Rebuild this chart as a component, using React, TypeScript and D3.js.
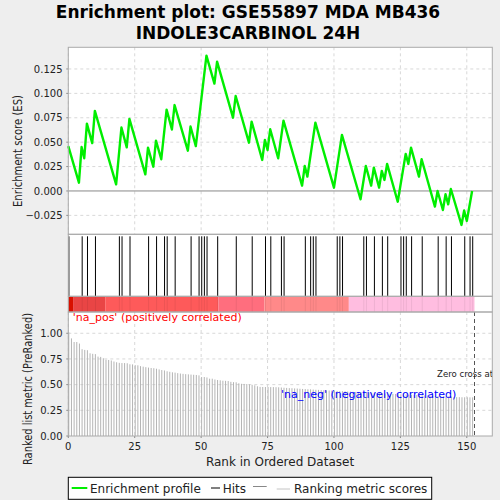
import { useEffect, useRef } from "react";
import * as d3 from "d3";

// hit ranks (gene set members in the ordered list)
const hitRanks = [0, 5, 7, 10, 19, 20, 23, 30, 33, 36, 37, 40, 46, 49, 50, 51, 52, 56, 63, 69, 74, 76, 80, 81,
  89, 91, 92, 93, 101, 102, 103, 111, 112, 115, 118, 120, 125, 126, 127, 129, 133, 139, 142, 144, 149, 151, 152];

// running enrichment score, vertices [rank, ES]
const esRanks = [0, 4, 5, 6, 7, 9, 10, 18, 20, 22, 23, 29, 30, 32, 33, 35, 37, 39, 40, 45, 46, 48, 52, 55, 56,
  62, 63, 68, 69, 73, 74, 75, 76, 79, 81, 88, 89, 90, 93, 100, 103, 110, 112, 114, 115, 117, 118, 119, 120,
  124, 127, 128, 129, 132, 133, 138, 139, 141, 142, 143, 144, 148, 149, 150, 152];
const esValues = [0.046, 0.0085, 0.045, 0.0335, 0.069, 0.049, 0.082, 0.0068, 0.065, 0.0447, 0.0738, 0.017,
  0.0444, 0.0249, 0.0516, 0.0325, 0.0833, 0.063, 0.088, 0.0413, 0.066, 0.046, 0.1387, 0.110, 0.1325,
  0.0751, 0.0973, 0.0495, 0.071, 0.0318, 0.0523, 0.042, 0.0632, 0.0335, 0.072, 0.0055, 0.0256, 0.0147,
  0.070, 0.0034, 0.0574, -0.0085, 0.0256, 0.0055, 0.0239, 0.0034, 0.0205, 0.0113, 0.0277,
  -0.011, 0.038, 0.0277, 0.0444, 0.0147, 0.0325, -0.016, 0.0, -0.0195, -0.0034, -0.0137, 0.002,
  -0.0348, -0.020, -0.0307, 0.0];

// ranked list metric, one per rank 0..152
const metric = [1.01, 0.95, 0.915, 0.915, 0.90, 0.845, 0.838, 0.835, 0.805, 0.80, 0.797, 0.773, 0.77, 0.757,
  0.742, 0.74, 0.735, 0.725, 0.718, 0.712, 0.71, 0.71, 0.708, 0.698, 0.697, 0.69, 0.688, 0.68, 0.675, 0.67,
  0.666, 0.662, 0.66, 0.655, 0.648, 0.642, 0.638, 0.63, 0.625, 0.62, 0.617, 0.612, 0.608, 0.605, 0.602,
  0.60, 0.598, 0.596, 0.594, 0.59, 0.574, 0.574, 0.57, 0.558, 0.558, 0.55, 0.545, 0.542, 0.538, 0.537,
  0.535, 0.527, 0.524, 0.523, 0.513, 0.508, 0.507, 0.506, 0.503, 0.498, 0.493, 0.484, 0.478, 0.477,
  0.477, 0.477, 0.476, 0.476, 0.475, 0.474, 0.472, 0.47, 0.468, 0.466, 0.465, 0.463, 0.462, 0.46, 0.458,
  0.457, 0.455, 0.454, 0.452, 0.45, 0.449, 0.447, 0.446, 0.444, 0.443, 0.442, 0.44, 0.439, 0.437, 0.436,
  0.435, 0.433, 0.432, 0.43, 0.429, 0.428, 0.426, 0.425, 0.423, 0.422, 0.421, 0.42, 0.418, 0.417, 0.416,
  0.414, 0.413, 0.412, 0.41, 0.409, 0.408, 0.406, 0.405, 0.404, 0.402, 0.401, 0.40, 0.399, 0.397, 0.396,
  0.395, 0.394, 0.393, 0.392, 0.39, 0.389, 0.388, 0.387, 0.386, 0.385, 0.384, 0.38, 0.378, 0.378, 0.377,
  0.377, 0.377, 0.376, 0.376];

// colour bar bands [start rank, end rank]
const bandStarts = [0, 1.8, 13.9, 56.5, 73.8, 105.6];
const bandEnds = [1.8, 13.9, 56.5, 73.8, 105.6, 152.9];
const bandColors = ["#d81000", "#e94545", "#fe5a5a", "#ff6e7e", "#ff8989", "#ffbde0"];

const zeroCross = 152.9;
const xTicks = [0, 25, 50, 75, 100, 125, 150];
const esTicks = [-0.025, 0, 0.025, 0.05, 0.075, 0.1, 0.125];
const metricTicks = [0, 0.25, 0.5, 0.75, 1.0];

const FONT = "DejaVu Sans";

export default function App() {
  const ref = useRef<SVGSVGElement>(null);

  useEffect(() => {
    if (!ref.current) return;
    const svg = d3.select(ref.current);
    svg.selectAll("*").remove();

    const L = 68.3, R = 492.3;
    const T1 = 47.3, B1 = 234.3;   // ES panel
    const B2 = 296.3;              // hits panel
    const B3 = 312;                // colour bar
    const B4 = 436;                // metric panel

    const x = d3.scaleLinear().domain([0, 159.6]).range([L, R]);
    const yES = d3.scaleLinear().domain([-0.0444, 0.1472]).range([B1, T1]);
    const yM = d3.scaleLinear().domain([0, 1.207]).range([B4, B3]);

    svg.append("rect").attr("width", 500).attr("height", 500).attr("fill", "#eeeeee");

    // Title
    const title = svg.append("text").attr("x", 248).attr("text-anchor", "middle")
      .attr("font-family", FONT).attr("font-weight", "bold").attr("font-size", 17).attr("fill", "#000");
    title.append("tspan").attr("x", 248).attr("y", 17.5).text("Enrichment plot: GSE55897 MDA MB436");
    title.append("tspan").attr("x", 248).attr("y", 39).text("INDOLE3CARBINOL 24H");

    // panel backgrounds
    svg.append("rect").attr("x", L).attr("y", T1).attr("width", R - L).attr("height", B4 - T1).attr("fill", "#fff");

    const grid = (g: d3.Selection<SVGGElement, unknown, null, undefined>, y0: number, y1: number) => {
      g.selectAll("line.vg").data(xTicks).enter().append("line")
        .attr("x1", d => x(d)).attr("x2", d => x(d)).attr("y1", y0).attr("y2", y1)
        .attr("stroke", "#d8d8d8").attr("stroke-dasharray", "3,3");
    };

    // ES panel
    const g1 = svg.append("g");
    grid(g1, T1, B1);
    g1.selectAll("line.hg").data(esTicks.filter(d => d !== 0)).enter().append("line")
      .attr("x1", L).attr("x2", R).attr("y1", d => yES(d)).attr("y2", d => yES(d))
      .attr("stroke", "#d8d8d8").attr("stroke-dasharray", "3,3");
    g1.append("line").attr("x1", L).attr("x2", R).attr("y1", yES(0)).attr("y2", yES(0))
      .attr("stroke", "#888").attr("stroke-width", 1);

    const line = d3.line<number>().x(d => x(esRanks[d])).y(d => yES(esValues[d]));
    g1.append("path").datum(d3.range(esRanks.length)).attr("d", line)
      .attr("fill", "none").attr("stroke", "#00ee00").attr("stroke-width", 2.4).attr("stroke-linejoin", "round");

    g1.selectAll("text.yt").data(esTicks).enter().append("text")
      .attr("x", 62.5).attr("y", d => yES(d) + 3.6).attr("text-anchor", "end")
      .attr("font-family", FONT).attr("font-size", 10).attr("fill", "#222")
      .text(d => d3.format(".3f")(d));
    g1.selectAll("line.yk").data(esTicks).enter().append("line")
      .attr("x1", L - 2).attr("x2", L).attr("y1", d => yES(d)).attr("y2", d => yES(d)).attr("stroke", "#888");

    // hits
    svg.append("g").selectAll("line").data(hitRanks).enter().append("line")
      .attr("x1", d => x(d) + 0.6).attr("x2", d => x(d) + 0.6).attr("y1", B1 + 2).attr("y2", B2)
      .attr("stroke", "#000").attr("stroke-width", 1);

    // colour bar
    svg.append("g").selectAll("rect").data(d3.range(bandColors.length)).enter().append("rect")
      .attr("x", i => x(bandStarts[i])).attr("width", i => x(bandEnds[i]) - x(bandStarts[i]))
      .attr("y", B2).attr("height", B3 - B2).attr("fill", i => bandColors[i]);
    svg.append("g").selectAll("line").data(hitRanks.filter(d => d > 0)).enter().append("line")
      .attr("x1", d => x(d) + 0.6).attr("x2", d => x(d) + 0.6).attr("y1", B2).attr("y2", B3)
      .attr("stroke", "#000").attr("stroke-opacity", 0.07);

    // metric panel
    const g4 = svg.append("g");
    grid(g4, B3, B4);
    g4.selectAll("line.hg").data(metricTicks.filter(d => d > 0)).enter().append("line")
      .attr("x1", L).attr("x2", R).attr("y1", d => yM(d)).attr("y2", d => yM(d))
      .attr("stroke", "#d8d8d8").attr("stroke-dasharray", "3,3");
    g4.selectAll("line.bar").data(metric).enter().append("line")
      .attr("x1", (_, i) => x(i) + 0.5).attr("x2", (_, i) => x(i) + 0.5)
      .attr("y1", yM(0)).attr("y2", d => yM(d))
      .attr("stroke", "#b4b4b4").attr("stroke-width", 1);
    g4.append("line").attr("x1", x(zeroCross)).attr("x2", x(zeroCross)).attr("y1", B3).attr("y2", B4)
      .attr("stroke", "#555").attr("stroke-dasharray", "4,3");

    svg.append("clipPath").attr("id", "clipM").append("rect")
      .attr("x", L).attr("y", B3).attr("width", R - L).attr("height", B4 - B3);
    g4.append("text").attr("clip-path", "url(#clipM)").attr("x", 437).attr("y", 376.5)
      .attr("font-family", FONT).attr("font-size", 8.6).attr("fill", "#222")
      .text(`Zero cross at ${Math.round(zeroCross)}`);
    g4.append("text").attr("x", 72.7).attr("y", 320.5)
      .attr("font-family", FONT).attr("font-size", 11).attr("fill", "#ff0000")
      .text("'na_pos' (positively correlated)");
    g4.append("text").attr("x", 281).attr("y", 397.5)
      .attr("font-family", FONT).attr("font-size", 11).attr("fill", "#0000ff")
      .text("'na_neg' (negatively correlated)");

    g4.selectAll("text.yt").data(metricTicks).enter().append("text")
      .attr("x", 62.5).attr("y", d => yM(d) + 3.6).attr("text-anchor", "end")
      .attr("font-family", FONT).attr("font-size", 10).attr("fill", "#222")
      .text(d => d3.format(".2f")(d));
    g4.selectAll("line.yk").data(metricTicks).enter().append("line")
      .attr("x1", L - 2).attr("x2", L).attr("y1", d => yM(d)).attr("y2", d => yM(d)).attr("stroke", "#888");

    // x axis
    g4.selectAll("text.xt").data(xTicks).enter().append("text")
      .attr("x", d => x(d)).attr("y", 449.5).attr("text-anchor", "middle")
      .attr("font-family", FONT).attr("font-size", 10).attr("fill", "#222").text(d => d);
    g4.selectAll("line.xk").data(xTicks).enter().append("line")
      .attr("x1", d => x(d)).attr("x2", d => x(d)).attr("y1", B4).attr("y2", B4 + 2).attr("stroke", "#888");

    // borders
    [[T1, B1], [B1, B2], [B2, B3], [B3, B4]].forEach(([a, b]) => {
      svg.append("rect").attr("x", L).attr("y", a).attr("width", R - L).attr("height", b - a)
        .attr("fill", "none").attr("stroke", "#aaa").attr("stroke-width", 1);
    });

    // axis titles
    svg.append("text").attr("x", 280).attr("y", 466).attr("text-anchor", "middle")
      .attr("font-family", FONT).attr("font-size", 12).attr("fill", "#222").text("Rank in Ordered Dataset");
    svg.append("text").attr("transform", "translate(22,151) rotate(-90)").attr("text-anchor", "middle")
      .attr("font-family", FONT).attr("font-size", 12).attr("textLength", 112).attr("lengthAdjust", "spacingAndGlyphs")
      .attr("fill", "#222").text("Enrichment score (ES)");
    svg.append("text").attr("transform", "translate(31.5,389) rotate(-90)").attr("text-anchor", "middle")
      .attr("font-family", FONT).attr("font-size", 12).attr("textLength", 152).attr("lengthAdjust", "spacingAndGlyphs")
      .attr("fill", "#222").text("Ranked list metric (PreRanked)");

    // legend
    const lg = svg.append("g");
    lg.append("rect").attr("x", 68.3).attr("y", 477.3).attr("width", 363.4).attr("height", 22)
      .attr("fill", "#fff").attr("stroke", "#000");
    lg.append("line").attr("x1", 71.7).attr("x2", 87.3).attr("y1", 488).attr("y2", 488)
      .attr("stroke", "#00ee00").attr("stroke-width", 2);
    lg.append("text").attr("x", 90).attr("y", 492.5).attr("font-family", FONT).attr("font-size", 12)
      .attr("fill", "#222").text("Enrichment profile");
    lg.append("line").attr("x1", 211).attr("x2", 220).attr("y1", 488).attr("y2", 488).attr("stroke", "#000");
    lg.append("text").attr("x", 222.7).attr("y", 492.5).attr("font-family", FONT).attr("font-size", 12)
      .attr("fill", "#222").text("Hits");
    lg.append("line").attr("x1", 253).attr("x2", 266.7).attr("y1", 486.5).attr("y2", 486.5).attr("stroke", "#888");
    lg.append("line").attr("x1", 276.7).attr("x2", 290).attr("y1", 489).attr("y2", 489).attr("stroke", "#c4c4c4");
    lg.append("text").attr("x", 294).attr("y", 492.5).attr("font-family", FONT).attr("font-size", 12)
      .attr("fill", "#222").text("Ranking metric scores");
  }, []);

  return (
    <div style={{ position: "absolute", left: 0, top: 0 }}>
      <svg ref={ref} width={500} height={500} style={{ display: "block" }} />
    </div>
  );
}
